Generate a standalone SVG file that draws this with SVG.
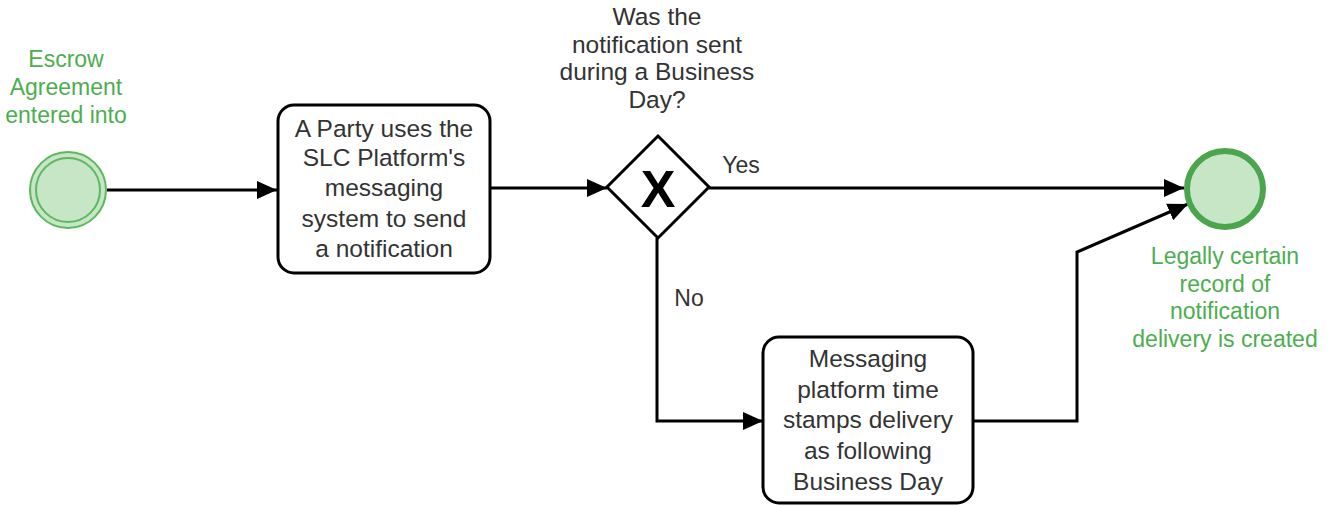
<svg xmlns="http://www.w3.org/2000/svg" width="1333" height="506" viewBox="0 0 1333 506">
  <style>
    .task { fill: #ffffff; stroke: #000000; stroke-width: 3; }
    .label { font-family: "Liberation Sans", Arial, sans-serif; font-size: 24.5px; fill: #333333; text-anchor: middle; }
    .small { font-size: 23px; }
    .green { fill: #4cae4f; }
    .flow { fill: none; stroke: #000000; stroke-width: 3; }
  </style>
  <defs>
    <marker id="arrow" markerWidth="20" markerHeight="18" refX="20" refY="9" orient="auto" markerUnits="userSpaceOnUse">
      <path d="M0,0 L20,9 L0,18 Z" fill="#000000"/>
    </marker>
  </defs>
  <rect width="1333" height="506" fill="#ffffff"/>

  <!-- sequence flows -->
  <g id="connectors">
    <path class="flow" d="M107,190 L277,190" marker-end="url(#arrow)"/>
    <path class="flow" d="M491,188 L607,188" marker-end="url(#arrow)"/>
    <path class="flow" d="M709,188 L1184,188" marker-end="url(#arrow)"/>
    <path class="flow" d="M657,238 L657,421 L763,421" marker-end="url(#arrow)"/>
    <path class="flow" d="M974,421 L1077,421 L1077,252 L1188,204" marker-end="url(#arrow)"/>
    <text class="label small" x="741" y="173">Yes</text>
    <text class="label small" x="689" y="306">No</text>
  </g>

  <!-- start event -->
  <g id="start">
    <circle cx="68" cy="190" r="38" fill="#c6e6c6" stroke="#5cb85f" stroke-width="2"/>
    <circle cx="68" cy="190" r="32" fill="none" stroke="#5cb85f" stroke-width="2"/>
    <text class="label small green" x="66" y="67">Escrow</text>
    <text class="label small green" x="66" y="95">Agreement</text>
    <text class="label small green" x="66" y="123">entered into</text>
  </g>

  <!-- send notification task -->
  <g id="task-send">
    <rect class="task" x="278" y="105" width="212" height="168" rx="16"/>
    <text class="label" x="384" y="137">A Party uses the</text>
    <text class="label" x="384" y="166">SLC Platform's</text>
    <text class="label" x="384" y="196">messaging</text>
    <text class="label" x="384" y="227">system to send</text>
    <text class="label" x="384" y="257">a notification</text>
  </g>

  <!-- exclusive gateway -->
  <g id="gateway">
    <polygon points="658,136 709,187 658,238 607,187" fill="#ffffff" stroke="#000000" stroke-width="3"/>
    <text x="658" y="207" font-family="Liberation Sans, Arial, sans-serif" font-size="52" font-weight="bold" text-anchor="middle" fill="#000000">X</text>
    <text class="label" x="657" y="25">Was the</text>
    <text class="label" x="657" y="53">notification sent</text>
    <text class="label" x="657" y="80">during a Business</text>
    <text class="label" x="657" y="108">Day?</text>
  </g>

  <!-- time stamp task -->
  <g id="task-timestamp">
    <rect class="task" x="763" y="337" width="210" height="166" rx="16"/>
    <text class="label" x="868" y="367">Messaging</text>
    <text class="label" x="868" y="398">platform time</text>
    <text class="label" x="868" y="428">stamps delivery</text>
    <text class="label" x="868" y="459">as following</text>
    <text class="label" x="868" y="490">Business Day</text>
  </g>

  <!-- end event -->
  <g id="end">
    <circle cx="1225" cy="189" r="38" fill="#c6e6c6" stroke="#4aa54d" stroke-width="6"/>
    <text class="label small green" x="1225" y="264">Legally certain</text>
    <text class="label small green" x="1225" y="292">record of</text>
    <text class="label small green" x="1225" y="319">notification</text>
    <text class="label small green" x="1225" y="347">delivery is created</text>
  </g>
</svg>
